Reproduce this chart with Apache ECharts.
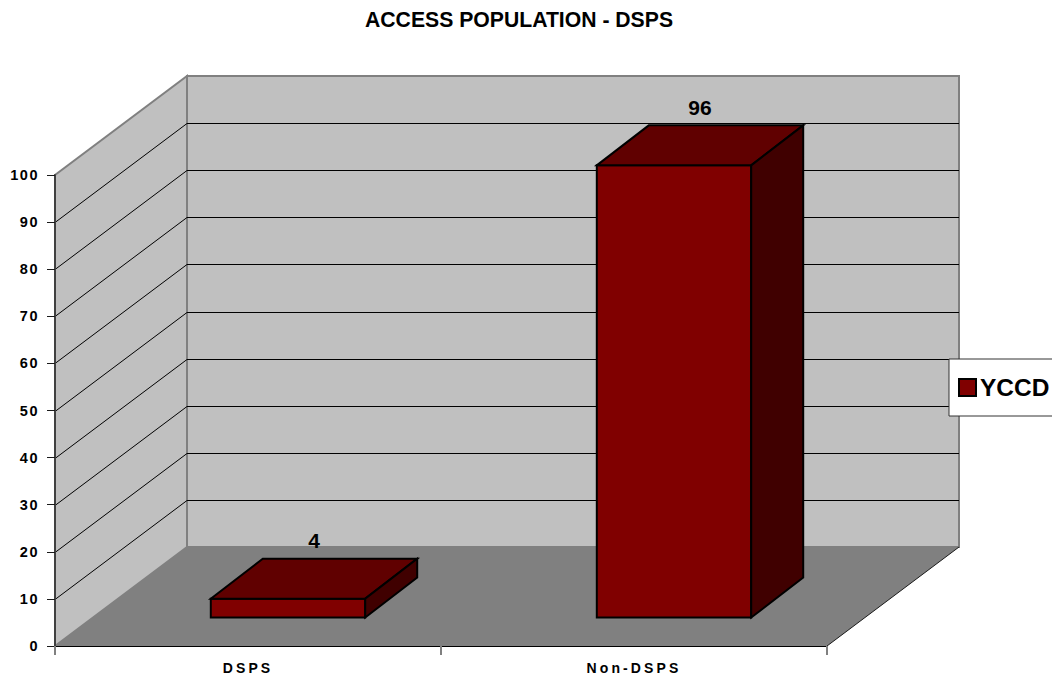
<!DOCTYPE html>
<html>
<head>
<meta charset="utf-8">
<style>
  html, body { margin: 0; padding: 0; background: #fff; }
  #chart { width: 1052px; height: 679px; }
  /* Axis labels are tracked out; the two axes are told apart by font size. */
  text[style*="14.5px"] { letter-spacing: 1.5px; }
  text[style*="14px"] { letter-spacing: 3.1px; }
</style>
<script src="https://cdn.jsdelivr.net/npm/echarts@6/dist/echarts.min.js"></script>
</head>
<body>
<div id="chart"></div>
<script>
const categories = ['DSPS', 'Non-DSPS'];
const seriesName = 'YCCD';
const values = [4, 96];
const gridValues = [10, 20, 30, 40, 50, 60, 70, 80, 90];

// Oblique projection of the room and of each block, in pixels.
const ROOM_DX = 132, ROOM_DY = 99;
const BAR_INSET_DX = 40, BAR_INSET_DY = 28.5;
const BAR_DEPTH_DX = 52, BAR_DEPTH_DY = 40;
const BAR_WIDTH_RATIO = 0.4;

const FONT = '"Liberation Sans", Arial, sans-serif';
const chart = echarts.init(document.getElementById('chart'), null, { renderer: 'svg' });

function poly(points, fill, stroke, lineWidth) {
  return {
    type: 'polygon',
    shape: { points },
    style: { fill, stroke: stroke || 'none', lineWidth: lineWidth || 0, lineJoin: 'miter' }
  };
}
function seg(a, b, stroke, lineWidth) {
  return {
    type: 'line',
    shape: { x1: a[0], y1: a[1], x2: b[0], y2: b[1] },
    style: { stroke, lineWidth, fill: null }
  };
}

// Side wall, back wall, floor and the wall gridlines.
function renderRoom(params, api) {
  const r = params.coordSys;
  const left = r.x, right = r.x + r.width;
  const y0 = api.coord([0, 0])[1], yTop = api.coord([0, 100])[1];
  const children = [
    poly([[left + ROOM_DX, yTop - ROOM_DY], [right + ROOM_DX, yTop - ROOM_DY],
          [right + ROOM_DX, y0 - ROOM_DY], [left + ROOM_DX, y0 - ROOM_DY]], '#c0c0c0', '#808080', 2),
    poly([[left, y0], [left, yTop], [left + ROOM_DX, yTop - ROOM_DY], [left + ROOM_DX, y0 - ROOM_DY]],
         '#c0c0c0', '#808080', 2),
    poly([[left, y0], [right, y0], [right + ROOM_DX, y0 - ROOM_DY], [left + ROOM_DX, y0 - ROOM_DY]], '#808080'),
    seg([right, y0], [right + ROOM_DX, y0 - ROOM_DY], '#1a1a1a', 1)
  ];
  gridValues.forEach(function (v) {
    const y = Math.round(api.coord([0, v])[1]) + 0.5;
    children.push(seg([left, y], [left + ROOM_DX, y - ROOM_DY], '#000', 1));
    children.push(seg([left + ROOM_DX, y - ROOM_DY], [right + ROOM_DX, y - ROOM_DY], '#000', 1));
  });
  return { type: 'group', children };
}

// One block: front, top and side faces, with its value above the far edge.
function renderBlock(params, api) {
  const value = api.value(1);
  const base = api.coord([api.value(0), 0]);
  const top = api.coord([api.value(0), value]);
  const half = api.size([1, 0])[0] * BAR_WIDTH_RATIO / 2;
  const xl = base[0] + BAR_INSET_DX - half, xr = base[0] + BAR_INSET_DX + half;
  const yb = base[1] - BAR_INSET_DY, yt = top[1] - BAR_INSET_DY;
  return {
    type: 'group',
    children: [
      poly([[xl, yb], [xr, yb], [xr, yt], [xl, yt]], '#800000', '#000', 2),
      poly([[xl, yt], [xr, yt], [xr + BAR_DEPTH_DX, yt - BAR_DEPTH_DY], [xl + BAR_DEPTH_DX, yt - BAR_DEPTH_DY]],
           '#600000', '#000', 2),
      poly([[xr, yb], [xr + BAR_DEPTH_DX, yb - BAR_DEPTH_DY], [xr + BAR_DEPTH_DX, yt - BAR_DEPTH_DY], [xr, yt]],
           '#400000', '#000', 2),
      {
        type: 'text',
        style: {
          text: String(value),
          x: (xl + xr) / 2 + BAR_DEPTH_DX / 2,
          y: yt - BAR_DEPTH_DY - 18,
          align: 'center',
          verticalAlign: 'middle',
          fill: '#000',
          font: 'bold 21px ' + FONT
        }
      }
    ]
  };
}

chart.setOption({
  animation: false,
  backgroundColor: '#fff',
  title: {
    text: 'ACCESS POPULATION - DSPS',
    left: 514,
    top: 4,
    textAlign: 'center',
    textStyle: { fontFamily: FONT, fontWeight: 'bold', fontSize: 21.2, color: '#000' }
  },
  legend: {
    data: [seriesName],
    left: 949,
    top: 359,
    orient: 'vertical',
    padding: [16, 6, 16, 9],
    itemWidth: 17,
    itemHeight: 17,
    itemGap: 0,
    icon: 'rect',
    backgroundColor: '#fff',
    borderColor: '#333',
    borderWidth: 1,
    selectedMode: false,
    textStyle: { fontFamily: FONT, fontWeight: 'bold', fontSize: 24.5, color: '#000', padding: [0, 0, 8, -1] }
  },
  grid: { left: 55, top: 175, width: 772, height: 471, containLabel: false },
  xAxis: {
    type: 'category',
    data: categories,
    z: 3,
    axisLine: { onZero: false, lineStyle: { color: '#000', width: 1 } },
    axisTick: { show: true, alignWithLabel: false, length: 9, lineStyle: { color: '#808080', width: 2 } },
    axisLabel: { margin: 15, fontFamily: FONT, fontWeight: 'bold', fontSize: 14, color: '#000' },
    splitLine: { show: false }
  },
  yAxis: {
    type: 'value',
    min: 0,
    max: 100,
    interval: 10,
    z: 3,
    axisLine: { show: true, lineStyle: { color: '#404040', width: 2 } },
    axisTick: { show: true, length: 8, lineStyle: { color: '#1a1a1a', width: 1 } },
    axisLabel: { margin: 16, fontFamily: FONT, fontWeight: 'bold', fontSize: 14.5, color: '#000' },
    splitLine: { show: false }
  },
  series: [
    {
      type: 'custom',
      name: 'room',
      z: 1,
      silent: true,
      data: [[0, 0]],
      renderItem: renderRoom
    },
    {
      type: 'custom',
      name: seriesName,
      z: 4,
      data: values.map(function (v, i) { return [i, v]; }),
      encode: { x: 0, y: 1 },
      itemStyle: { color: '#800000', borderColor: '#000', borderWidth: 2 },
      renderItem: renderBlock
    }
  ]
});
</script>
</body>
</html>
